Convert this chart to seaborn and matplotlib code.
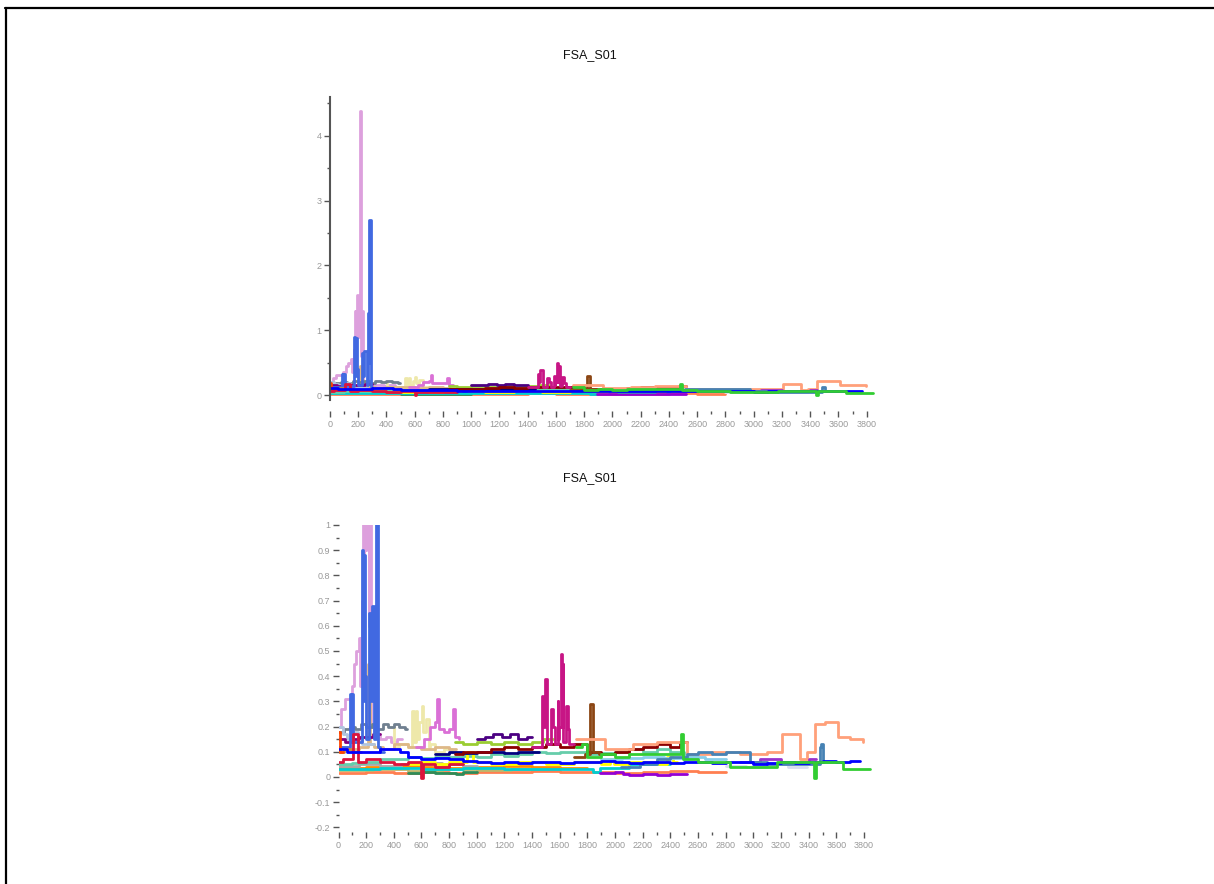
import matplotlib
matplotlib.use("Agg")
import matplotlib.pyplot as plt
from matplotlib.lines import Line2D
from matplotlib.ticker import MultipleLocator, FuncFormatter
import seaborn as sns
import pandas as pd

# ---- series values (x = sample index, y = value) ----
plum_x = [0, 20, 45, 95, 110, 130, 150, 158, 165, 168, 172, 178, 183, 186, 193, 198, 202, 209, 216,
          220, 224, 232, 260, 300, 340, 380, 420, 460]
plum_y = [0.2, 0.27, 0.31, 0.36, 0.45, 0.5, 0.55, 0.36, 0.55, 0.7, 0.45, 1.3, 0.8, 1.3, 1.55, 0.9,
          1.5, 4.38, 1.35, 0.6, 1.3, 0.2, 0.17, 0.15, 0.16, 0.14, 0.15, 0.15]

khaki_x = [380, 402, 440, 500, 533, 545, 557, 569, 585, 605, 612, 630, 655, 665, 700, 760, 820, 860]
khaki_y = [0.2, 0.12, 0.13, 0.12, 0.26, 0.14, 0.26, 0.15, 0.22, 0.28, 0.18, 0.23, 0.12, 0.13, 0.1, 0.11, 0.1, 0.1]

burly_x = [0, 60, 150, 215, 225, 260, 320, 400, 500, 600, 700, 800, 850]
burly_y = [0.12, 0.11, 0.12, 0.45, 0.13, 0.12, 0.11, 0.13, 0.12, 0.11, 0.12, 0.11, 0.11]

slate_x = [0, 40, 80, 120, 160, 200, 240, 280, 320, 360, 400, 440, 480, 495]
slate_y = [0.18, 0.19, 0.2, 0.19, 0.21, 0.2, 0.21, 0.19, 0.21, 0.2, 0.21, 0.2, 0.19, 0.19]

lsteel_x = [0, 30, 60, 100, 140, 170, 225, 260]
lsteel_y = [0.2, 0.17, 0.15, 0.18, 0.16, 0.13, 0.13, 0.13]

purple_x = [0, 50, 100, 150, 250, 300]
purple_y = [0.15, 0.14, 0.15, 0.16, 0.17, 0.17]

orchid_x = [560, 620, 660, 700, 712, 725, 760, 800, 830, 845, 870]
orchid_y = [0.12, 0.15, 0.2, 0.22, 0.31, 0.19, 0.18, 0.19, 0.27, 0.16, 0.15]

royal_x = [0, 82, 90, 95, 108, 172, 178, 183, 188, 194, 200, 224, 232, 240, 259, 271, 275, 278, 287,
           300, 330]
royal_y = [0.12, 0.33, 0.15, 0.33, 0.14, 0.9, 0.3, 0.88, 0.7, 0.4, 0.15, 0.65, 0.3, 0.68, 0.15, 1.27,
           0.5, 2.7, 0.12, 0.1, 0.1]

peru_x = [0, 40, 100, 160]
peru_y = [0.1, 0.11, 0.1, 0.1]

orangered_x = [0, 10, 30]
orangered_y = [0.18, 0.1, 0.1]

mvred_x = [1400, 1472, 1480, 1490, 1508, 1537, 1549, 1565, 1584, 1590, 1596, 1608, 1616, 1620, 1625,
           1644, 1656, 1670, 1700]
mvred_y = [0.12, 0.32, 0.2, 0.39, 0.13, 0.27, 0.2, 0.13, 0.3, 0.15, 0.2, 0.49, 0.2, 0.45, 0.14,
           0.28, 0.19, 0.13, 0.13]

brown_x = [1700, 1780, 1820, 1843, 1880, 1900]
brown_y = [0.08, 0.09, 0.29, 0.1, 0.09, 0.09]

indigo_x = [1000, 1060, 1120, 1180, 1240, 1300, 1360, 1400]
indigo_y = [0.15, 0.16, 0.17, 0.16, 0.17, 0.15, 0.16, 0.16]

ygreen_x = [840, 900, 1000, 1100, 1200, 1300, 1400, 1480, 1550]
ygreen_y = [0.14, 0.13, 0.14, 0.13, 0.14, 0.13, 0.14, 0.15, 0.15]

navy_x = [700, 800, 900, 1000, 1100, 1200, 1300, 1400, 1450]
navy_y = [0.09, 0.1, 0.095, 0.1, 0.1, 0.095, 0.1, 0.1, 0.1]

darkred_x = [840, 900, 1000, 1100, 1200, 1300, 1400, 1500, 1600, 1700, 1800, 1900, 2000, 2100,
             2200, 2300, 2400, 2470, 2520]
darkred_y = [0.09, 0.1, 0.1, 0.11, 0.12, 0.11, 0.12, 0.13, 0.12, 0.13, 0.1, 0.09, 0.1, 0.11,
             0.12, 0.13, 0.12, 0.14, 0.14]

salmon_x = [1720, 1930, 2130, 2300, 2520, 2700, 2900, 3100, 3204, 3336, 3385, 3445, 3520, 3614, 3700, 3794]
salmon_y = [0.15, 0.11, 0.13, 0.14, 0.09, 0.1, 0.09, 0.1, 0.17, 0.07, 0.1, 0.21, 0.22, 0.16, 0.15, 0.14]

aqua_x = [0, 100, 200, 300, 400, 500, 600, 700, 800, 900, 1000, 1100, 1200, 1300, 1400, 1500,
          1600, 1700, 1800, 1900, 2000, 2100, 2200, 2300, 2400, 2500, 2600]
aqua_y = [0.05, 0.055, 0.06, 0.07, 0.07, 0.08, 0.075, 0.08, 0.08, 0.085, 0.08, 0.09, 0.085, 0.09,
          0.1, 0.095, 0.1, 0.1, 0.09, 0.095, 0.1, 0.11, 0.1, 0.11, 0.1, 0.08, 0.075]

crimson_x = [0, 30, 107, 143, 200, 300, 400, 500, 600, 612, 700, 800, 900]
crimson_y = [0.06, 0.07, 0.17, 0.06, 0.07, 0.06, 0.05, 0.06, -0.005, 0.05, 0.04, 0.05, 0.05]

coral_x = [0, 200, 400, 600, 800, 1000, 1200, 1400, 1600, 1800, 2000, 2200, 2400, 2600, 2800]
coral_y = [0.015, 0.02, 0.015, 0.02, 0.015, 0.02, 0.02, 0.025, 0.02, 0.02, 0.015, 0.02, 0.025, 0.02, 0.02]

dorange_x = [0, 200, 400, 600, 800, 1000, 1200, 1400, 1600, 1800]
dorange_y = [0.035, 0.04, 0.045, 0.04, 0.035, 0.04, 0.045, 0.04, 0.035, 0.035]

dgray_x = [0, 150, 300, 450, 600, 750, 900, 1000]
dgray_y = [0.045, 0.05, 0.045, 0.05, 0.055, 0.05, 0.045, 0.045]

olive_x = [0, 250, 500, 750, 1000, 1250, 1500]
olive_y = [0.028, 0.03, 0.025, 0.03, 0.028, 0.03, 0.03]

gold_x = [500, 600, 700, 800, 900, 930, 975, 1100, 1300, 1500, 1700, 1900, 1963, 1990, 2100, 2300,
          2372, 2420, 2450]
gold_y = [0.05, 0.06, 0.05, 0.06, 0.06, 0.1, 0.06, 0.05, 0.06, 0.05, 0.06, 0.05, 0.07, 0.05, 0.06,
          0.05, 0.08, 0.06, 0.06]

turq_x = [0, 300, 600, 900, 1200, 1500, 1842, 1890, 2100, 2300, 2400]
turq_y = [0.03, 0.035, 0.03, 0.035, 0.03, 0.03, 0.02, 0.035, 0.05, 0.05, 0.05]

seagreen_x = [500, 600, 700, 853, 900, 998]
seagreen_y = [0.015, 0.02, 0.015, 0.01, 0.02, 0.02]

skyblue_x = [1900, 2050, 2200, 2350, 2500, 2650, 2800]
skyblue_y = [0.07, 0.075, 0.08, 0.075, 0.08, 0.07, 0.07]

dviolet_x = [1890, 2000, 2060, 2100, 2200, 2300, 2400, 2520]
dviolet_y = [0.015, 0.02, 0.01, 0.008, 0.01, 0.008, 0.01, 0.01]

mpurple_x = [2900, 3050, 3200, 3400, 3450]
mpurple_y = [0.06, 0.07, 0.06, 0.07, 0.07]

lavender_x = [2800, 2950, 3100, 3250, 3385]
lavender_y = [0.045, 0.04, 0.05, 0.04, 0.04]

steel_x = [2040, 2180, 2300, 2400, 2517, 2600, 2700, 2800, 2975, 3100, 3300, 3481, 3490, 3505, 3600]
steel_y = [0.04, 0.05, 0.07, 0.08, 0.09, 0.1, 0.09, 0.1, 0.06, 0.05, 0.05, 0.12, 0.13, 0.06, 0.06]

lime_x = [1720, 1760, 1800, 1900, 2000, 2100, 2480, 2490, 2600, 2830, 3000, 3170, 3340, 3440, 3455,
          3470, 3650, 3843]
lime_y = [0.12, 0.13, 0.08, 0.09, 0.08, 0.09, 0.17, 0.07, 0.06, 0.04, 0.04, 0.06, 0.06, -0.005, 0.06,
          0.06, 0.03, 0.03]

blue_x = [0, 60, 200, 300, 445, 500, 600, 700, 800, 900, 1000, 1100, 1200, 1300, 1400, 1500, 1600,
          1700, 1800, 1900, 2000, 2100, 2200, 2300, 2400, 2500, 2600, 2700, 2800, 2900, 3000, 3100,
          3200, 3300, 3400, 3500, 3600, 3700, 3770]
blue_y = [0.11, 0.1, 0.1, 0.11, 0.1, 0.08, 0.07, 0.075, 0.07, 0.065, 0.06, 0.055, 0.06, 0.055, 0.06,
          0.06, 0.055, 0.06, 0.06, 0.065, 0.06, 0.055, 0.06, 0.06, 0.055, 0.06, 0.06, 0.055, 0.06,
          0.06, 0.05, 0.055, 0.06, 0.055, 0.06, 0.065, 0.06, 0.065, 0.065]

series = [
    ("plum", plum_x, plum_y, "#DDA0DD"),
    ("khaki", khaki_x, khaki_y, "#EEE8AA"),
    ("burlywood", burly_x, burly_y, "#DEB887"),
    ("slategray", slate_x, slate_y, "#708090"),
    ("lightsteelblue", lsteel_x, lsteel_y, "#B0C4DE"),
    ("purple", purple_x, purple_y, "#800080"),
    ("orchid", orchid_x, orchid_y, "#DA70D6"),
    ("royalblue", royal_x, royal_y, "#4169E1"),
    ("peru", peru_x, peru_y, "#CD853F"),
    ("orangered", orangered_x, orangered_y, "#FF4500"),
    ("coral", coral_x, coral_y, "#FF7F50"),
    ("darkorange", dorange_x, dorange_y, "#FF8C00"),
    ("darkgray", dgray_x, dgray_y, "#A9A9A9"),
    ("olive", olive_x, olive_y, "#BDB76B"),
    ("seagreen", seagreen_x, seagreen_y, "#2E8B57"),
    ("turquoise", turq_x, turq_y, "#00CED1"),
    ("aquamarine", aqua_x, aqua_y, "#66CDAA"),
    ("gold", gold_x, gold_y, "#FFFF00"),
    ("crimson", crimson_x, crimson_y, "#DC143C"),
    ("yellowgreen", ygreen_x, ygreen_y, "#9ACD32"),
    ("indigo", indigo_x, indigo_y, "#4B0082"),
    ("navy", navy_x, navy_y, "#000080"),
    ("darkred", darkred_x, darkred_y, "#8B0000"),
    ("mediumvioletred", mvred_x, mvred_y, "#C71585"),
    ("saddlebrown", brown_x, brown_y, "#8B4513"),
    ("lightsalmon", salmon_x, salmon_y, "#FFA07A"),
    ("skyblue", skyblue_x, skyblue_y, "#87CEEB"),
    ("darkviolet", dviolet_x, dviolet_y, "#9400D3"),
    ("mediumpurple", mpurple_x, mpurple_y, "#9932CC"),
    ("lavender", lavender_x, lavender_y, "#D8DCF0"),
    ("steelblue", steel_x, steel_y, "#4682B4"),
    ("blue", blue_x, blue_y, "#0000FF"),
    ("limegreen", lime_x, lime_y, "#32CD32"),
]

title = "FSA_S01"

rows = []
for name, xs, ys, _ in series:
    for xv, yv in zip(xs, ys):
        rows.append((name, xv, yv))
df = pd.DataFrame(rows, columns=["series", "x", "y"])
palette = {name: col for name, _, _, col in series}
order = [s[0] for s in series]

sns.set_style("white")
plt.rcParams["font.family"] = ["Liberation Sans", "DejaVu Sans"]

W, H = 1214, 884
fig = plt.figure(figsize=(W / 100, H / 100), dpi=100)

tick_grey = "#999999"
mark_grey = "#555555"


def draw(ax):
    sns.lineplot(data=df, x="x", y="y", hue="series", hue_order=order, palette=palette,
                 estimator=None, drawstyle="steps-post", lw=2.0, legend=False, ax=ax)
    ax.set_xlabel("")
    ax.set_ylabel("")
    ax.set_xlim(0, 3880)
    ax.xaxis.set_major_locator(MultipleLocator(200))
    ax.xaxis.set_minor_locator(MultipleLocator(100))
    ax.tick_params(axis="both", which="major", labelsize=6.5, labelcolor=tick_grey,
                   color=mark_grey, length=4, width=1, direction="out", pad=2)
    ax.tick_params(axis="both", which="minor", color=mark_grey, length=2, width=1, direction="out")
    ax.xaxis.set_ticks_position("bottom")
    ax.yaxis.set_ticks_position("left")
    for s in ["top", "right", "bottom", "left"]:
        ax.spines[s].set_visible(False)
    ax.grid(False)


# top panel: full range
ax1 = fig.add_axes([330 / W, 1 - 411.2 / H, 548 / W, 314.2 / H])
draw(ax1)
ax1.set_ylim(-0.25, 4.6)
ax1.yaxis.set_major_locator(MultipleLocator(1))
ax1.yaxis.set_minor_locator(MultipleLocator(0.5))
ax1.spines["left"].set_visible(True)
ax1.spines["left"].set_color(mark_grey)
ax1.spines["left"].set_linewidth(1.5)
ax1.spines["left"].set_bounds(-0.08, 4.6)

# bottom panel: zoomed y range
ax2 = fig.add_axes([338.5 / W, 1 - 832.4 / H, 536.6 / W, 307.4 / H])
draw(ax2)
ax2.set_ylim(-0.22, 1.0)
ax2.yaxis.set_major_locator(MultipleLocator(0.1))
ax2.yaxis.set_minor_locator(MultipleLocator(0.05))
ax2.yaxis.set_major_formatter(FuncFormatter(lambda v, p: f"{round(v, 2):g}"))

fig.text(590 / W, 1 - 55 / H, title, ha="center", va="center", fontsize=9, color="#111111")
fig.text(590 / W, 1 - 478 / H, title, ha="center", va="center", fontsize=9, color="#111111")

# frame lines (top and left edges)
fig.add_artist(Line2D([5 / W, 1], [1 - 7.5 / H, 1 - 7.5 / H], transform=fig.transFigure,
                      color="black", lw=1.6))
fig.add_artist(Line2D([6 / W, 6 / W], [0, 1 - 7.5 / H], transform=fig.transFigure,
                      color="black", lw=1.6))

fig.savefig("out.png", dpi=100)
